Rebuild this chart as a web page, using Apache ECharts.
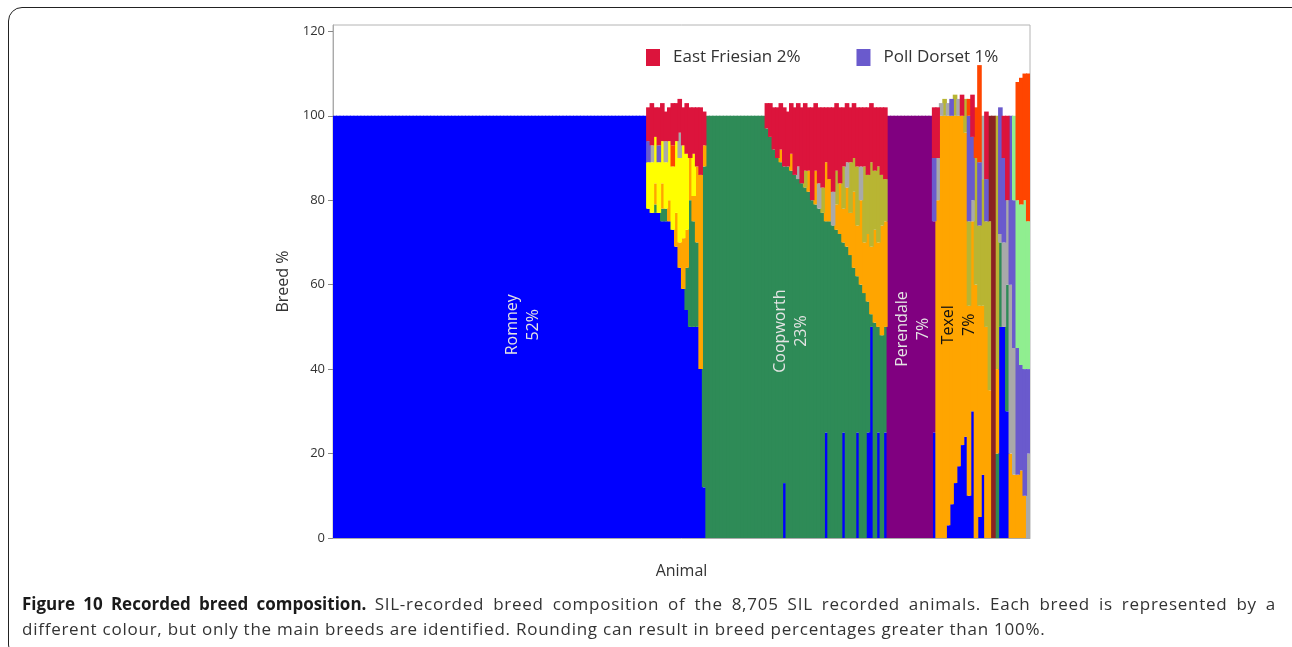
<!DOCTYPE html>
<html>
<head>
<meta charset="utf-8">
<title>Recorded breed composition</title>
<script src="https://cdn.jsdelivr.net/npm/echarts@6/dist/echarts.min.js"></script>
<style>
  html, body { margin: 0; padding: 0; background: #fff; width: 1292px; height: 647px; overflow: hidden; }
  #frame { position: absolute; left: 8px; top: 7px; width: 1300px; height: 652px; border: 1.5px solid #222; border-radius: 14px; box-sizing: border-box; }
  #main { position: absolute; left: 0; top: 0; width: 1292px; height: 647px; }
  #caption { position: absolute; left: 22px; top: 591px; font-family: "Open Sans", sans-serif; font-size: 17px; line-height: 25px; color: #333; white-space: nowrap; }
  #caption .l1 { width: 1254px; text-align: justify; text-align-last: justify; }
  #caption .r { letter-spacing: 0.75px; }
  #caption b { color: #1a1a1a; }
</style>
</head>
<body>
<div id="frame"></div>
<div id="main"></div>
<div id="caption">
  <div class="l1"><b>Figure 10 Recorded breed composition.</b> <span class="r">SIL-recorded breed composition of the 8,705 SIL recorded animals. Each breed is represented by a</span></div>
  <div class="r">different colour, but only the main breeds are identified. Rounding can result in breed percentages greater than 100%.</div>
</div>
<script>
// 200 columns, each standing for a run of sorted animals (left to right)
const N = 200;
const animals = Array.from({ length: N }, (_, i) => i + 1);
const yTicks = [0, 20, 40, 60, 80, 100, 120];

function rep(v, n) { return Array(n).fill(v); }

// segments: Romney 0-89 | mixed 90-106 | Coopworth 107-123 | mixed 124-158 | Perendale 159-171 | Texel/mixed 172-199
const romney = [].concat(rep(100, 90),
  [78, 77, 77, 77, 75, 75, 75, 73, 69, 64, 59, 54, 50, 50, 50, 40, 12],
  rep(0, 17),
  [0, 0, 0, 0, 0, 13, 0, 0, 0, 0, 0, 0, 0, 0, 0, 0, 0, 25, 0, 0, 0, 0, 25, 0, 0, 0, 25, 0, 0, 25, 50, 0, 25, 0, 25],
  rep(0, 13),
  [25, 0, 0, 0, 3, 8, 13, 17, 22, 24, 10, 30, 0, 5, 15, 0, 0, 0, 0, 50, 50, 30, 0, 0, 0, 0, 0, 0]);

const coopworth = [].concat(rep(0, 90),
  [0, 0, 2, 0, 3, 3, 0, 0, 0, 0, 0, 10, 30, 25, 20, 0, 76],
  rep(100, 17),
  [97, 95, 92, 90, 89, 75, 88, 87, 86, 85, 84, 83, 82, 80, 79, 78, 77, 50, 75, 74, 73, 72, 45, 69, 67, 64, 37, 60, 58, 31, 3, 51, 25, 48, 25],
  rep(0, 13),
  [0, 0, 0, 0, 0, 0, 0, 0, 0, 0, 0, 0, 0, 0, 0, 0, 0, 0, 20, 20, 0, 30, 0, 0, 0, 0, 0, 0]);

const perendale = [].concat(rep(0, 90), rep(0, 17), rep(0, 17), rep(0, 35), rep(100, 13),
  [50, 0, 0, 0, 0, 0, 0, 0, 0, 0, 0, 0, 0, 0, 0, 0, 0, 0, 0, 0, 0, 0, 0, 0, 0, 0, 0, 0]);

const texel = [].concat(rep(0, 90),
  [0, 0, 5, 0, 6, 0, 5, 0, 8, 6, 12, 9, 10, 6, 18, 46, 5],
  rep(0, 17),
  [0, 0, 0, 0, 3, 0, 0, 4, 0, 0, 0, 0, 5, 0, 8, 0, 0, 14, 10, 0, 6, 12, 8, 14, 10, 18, 12, 20, 12, 16, 16, 22, 20, 26, 25],
  rep(0, 13),
  [0, 80, 100, 100, 97, 92, 87, 83, 78, 72, 45, 45, 60, 50, 40, 50, 35, 0, 20, 0, 0, 0, 20, 15, 15, 16, 10, 0]);

const yellowBreed = [].concat(rep(0, 90),
  [11, 12, 11, 12, 10, 11, 14, 15, 17, 20, 22, 18, 0, 10, 0, 0, 0],
  rep(0, 17), rep(0, 35), rep(0, 13), rep(0, 28));

const oliveBreed = [].concat(rep(0, 90), rep(0, 17), rep(0, 17),
  [0, 0, 0, 0, 0, 0, 0, 0, 0, 0, 0, 4, 0, 0, 0, 0, 6, 0, 0, 0, 8, 0, 10, 0, 12, 8, 14, 0, 18, 14, 20, 14, 18, 12, 10],
  rep(0, 13),
  [0, 0, 0, 4, 0, 0, 5, 0, 0, 8, 20, 0, 30, 19, 30, 25, 40, 0, 60, 0, 0, 0, 0, 0, 0, 0, 0, 0]);

const brownBreed = [].concat(rep(0, 90), rep(0, 17), rep(0, 17), rep(0, 35), rep(0, 13),
  [0, 0, 0, 0, 0, 0, 0, 0, 0, 0, 0, 0, 0, 0, 0, 0, 25, 100, 0, 0, 0, 0, 0, 0, 0, 0, 0, 0]);

const grayBreed = [].concat(rep(0, 90),
  [0, 4, 0, 0, 0, 5, 0, 0, 0, 6, 0, 0, 0, 0, 0, 0, 0],
  rep(0, 17),
  [0, 0, 0, 0, 0, 0, 0, 0, 0, 3, 0, 0, 0, 0, 0, 6, 0, 0, 0, 8, 0, 0, 0, 6, 0, 0, 0, 8, 0, 0, 0, 0, 0, 0, 0],
  rep(0, 13),
  [0, 10, 3, 0, 3, 0, 0, 4, 0, 0, 0, 5, 0, 0, 15, 0, 0, 0, 0, 2, 20, 20, 40, 30, 0, 0, 0, 20]);

const pollDorset = [].concat(rep(0, 90),
  [5, 0, 0, 4, 0, 0, 0, 0, 0, 0, 0, 0, 0, 0, 0, 0, 0],
  rep(0, 17), rep(0, 35), rep(0, 13),
  [15, 0, 0, 0, 0, 4, 0, 0, 0, 0, 25, 15, 0, 15, 0, 10, 0, 0, 0, 30, 20, 0, 40, 35, 30, 25, 30, 20]);

const lightgreenBreed = [].concat(rep(0, 90), rep(0, 17), rep(0, 17), rep(0, 35), rep(0, 13),
  [0, 0, 0, 0, 0, 0, 0, 0, 0, 0, 0, 0, 0, 0, 0, 0, 0, 0, 0, 0, 0, 0, 0, 20, 35, 38, 40, 35]);

const orangeredBreed = [].concat(rep(0, 90),
  [0, 0, 0, 0, 0, 0, 0, 5, 0, 0, 0, 0, 0, 0, 0, 0, 0],
  rep(0, 17), rep(0, 35), rep(0, 13),
  [0, 0, 0, 0, 0, 0, 0, 0, 0, 0, 4, 0, 12, 23, 0, 0, 0, 0, 0, 0, 0, 0, 0, 0, 28, 30, 30, 35]);

const eastFriesian = [].concat(rep(0, 90),
  [8, 10, 7, 9, 9, 7, 8, 10, 9, 8, 9, 12, 12, 11, 14, 16, 8],
  rep(0, 17),
  [6, 8, 10, 12, 11, 14, 13, 12, 16, 15, 18, 16, 15, 22, 16, 18, 19, 13, 17, 20, 16, 18, 14, 14, 13, 13, 14, 14, 14, 16, 14, 15, 14, 16, 17],
  rep(0, 13),
  [12, 12, 0, 0, 0, 0, 0, 0, 5, 0, 0, 10, 0, 0, 0, 16, 0, 0, 0, 0, 10, 20, 0, 0, 0, 0, 0, 0]);

// bottom to top
const breeds = [
  { name: 'Romney', color: '#0000ff', data: romney },
  { name: 'Coopworth', color: '#2e8b57', data: coopworth },
  { name: 'Perendale', color: '#800080', data: perendale },
  { name: 'Texel', color: '#ffa500', data: texel },
  { name: 'Yellow', color: '#ffff00', data: yellowBreed },
  { name: 'Olive', color: '#b8b533', data: oliveBreed },
  { name: 'Brown', color: '#8b2323', data: brownBreed },
  { name: 'Gray', color: '#a9a9a9', data: grayBreed },
  { name: 'Poll Dorset 1%', color: '#6a5acd', data: pollDorset },
  { name: 'Lightgreen', color: '#90ee90', data: lightgreenBreed },
  { name: 'Orangered', color: '#ff4500', data: orangeredBreed },
  { name: 'East Friesian 2%', color: '#dc143c', data: eastFriesian }
];

const breedLabels = [
  { text: 'Romney\n52%', at: [54, 50.5], color: '#e4e4e4' },
  { text: 'Coopworth\n23%', at: [131, 49], color: '#e4e4e4' },
  { text: 'Perendale\n7%', at: [165.5, 49.5], color: '#e4e4e4' },
  { text: 'Texel\n7%', at: [179, 50.5], color: '#111' }
];

const chart = echarts.init(document.getElementById('main'));

const option = {
  animation: false,
  textStyle: { fontFamily: 'Open Sans, sans-serif' },
  legend: {
    data: ['East Friesian 2%', 'Poll Dorset 1%'],
    left: 641,
    top: 44,
    itemWidth: 14,
    itemHeight: 17,
    itemGap: 56,
    icon: 'rect',
    textStyle: { fontSize: 17, color: '#333', padding: [0, 0, 0, 8] }
  },
  grid: {
    left: 333,
    right: 262,
    top: 25,
    bottom: 109,
    show: true,
    borderColor: '#b4b4b4',
    borderWidth: 1
  },
  xAxis: {
    type: 'category',
    data: animals,
    axisLine: { lineStyle: { color: '#aaa' } },
    axisTick: { show: false },
    axisLabel: { show: false },
    name: 'Animal',
    nameLocation: 'middle',
    nameGap: 25,
    nameTextStyle: { fontSize: 16, color: '#333' }
  },
  yAxis: {
    type: 'value',
    min: 0,
    max: 121.5,
    axisLine: { show: true, lineStyle: { color: '#aaa' } },
    axisTick: { show: true, length: 5, lineStyle: { color: '#888' }, customValues: yTicks },
    axisLabel: { customValues: yTicks, color: '#333', fontSize: 13, margin: 8 },
    splitLine: { show: false },
    name: 'Breed %',
    nameLocation: 'middle',
    nameGap: 42,
    nameTextStyle: { fontSize: 16, color: '#333' }
  },
  series: breeds.map(b => ({
    name: b.name,
    type: 'bar',
    stack: 'breed',
    barWidth: 4.6, // wider than the band so neighbouring columns overlap without seams
    silent: true,
    itemStyle: { color: b.color },
    data: b.data
  }))
};

chart.setOption(option);

chart.setOption({
  graphic: breedLabels.map(l => {
    const p = chart.convertToPixel({ gridIndex: 0 }, l.at);
    return {
      type: 'text',
      x: p[0],
      y: p[1],
      z: 100,
      rotation: Math.PI / 2,
      silent: true,
      style: {
        text: l.text,
        fill: l.color,
        font: '16px "Open Sans", sans-serif',
        align: 'center',
        verticalAlign: 'middle',
        lineHeight: 21
      }
    };
  })
});
</script>
</body>
</html>
